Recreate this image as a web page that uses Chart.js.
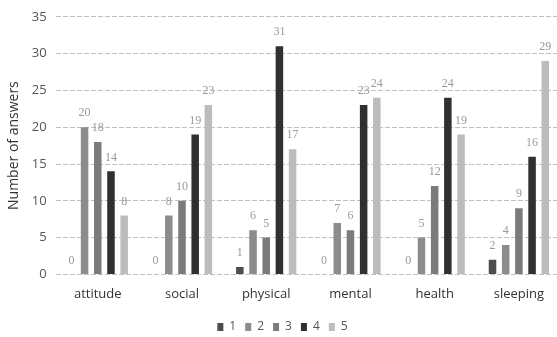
<!DOCTYPE html>
<html><head><meta charset="utf-8">
<script src="https://cdn.jsdelivr.net/npm/chart.js@4/dist/chart.umd.min.js"></script>
<style>html,body{margin:0;padding:0;background:#fff;overflow:hidden}#wrap{width:562px;height:337px}</style>
</head><body><div id="wrap"><canvas id="c" width="562" height="337"></canvas></div>
<script>
const categories = ["attitude","social","physical","mental","health","sleeping"];
const seriesNames = ["1","2","3","4","5"];
const s1 = [0,0,1,0,0,2];
const s2 = [20,8,6,7,5,4];
const s3 = [18,10,5,6,12,9];
const s4 = [14,19,31,23,24,16];
const s5 = [8,23,17,24,19,29];
const yTicks = [0,5,10,15,20,25,30,35];
const colors = ["#4d4d4d","#8c8c8c","#7b7b7b","#303030","#bcbcbc"];
const allSeries = [s1,s2,s3,s4,s5];

const labelPlugin = {
  id:'vals',
  afterLayout(chart){
    if (chart.legend) { chart.legend.top += 6; chart.legend.bottom += 6; }
  },
  afterDatasetsDraw(chart){
    const ctx = chart.ctx;
    ctx.save();
    ctx.font = '12px "Liberation Serif", serif';
    ctx.fillStyle = '#999';
    ctx.textAlign = 'center';
    ctx.textBaseline = 'middle';
    chart.data.datasets.forEach((ds,i)=>{
      chart.getDatasetMeta(i).data.forEach((bar,j)=>{
        ctx.fillText(String(ds.data[j]), bar.x, bar.y - 14);
      });
    });
    ctx.restore();
  }
};

new Chart(document.getElementById('c'), {
  type:'bar',
  data:{
    labels:categories,
    datasets: allSeries.map((d,i)=>({label:seriesNames[i], data:d, backgroundColor:colors[i], barPercentage:0.57, categoryPercentage:0.783}))
  },
  options:{
    responsive:false, animation:false,
    layout:{padding:{top:9,right:1,left:4,bottom:0}},
    plugins:{
      legend:{position:'bottom', labels:{boxWidth:6, boxHeight:8, padding:9, color:'#555', font:{family:'"Open Sans", sans-serif', size:12}}},
      tooltip:{enabled:false}
    },
    scales:{
      x:{grid:{display:false}, border:{display:false}, ticks:{color:'#333', padding:4, font:{family:'"Open Sans", sans-serif', size:13}}},
      y:{min:0,max:35,
        afterBuildTicks(ax){ax.ticks = yTicks.map(v=>({value:v}));},
        grid:{color:'#c0c0c0', drawTicks:false},
        border:{display:false, dash:[5,2]},
        ticks:{color:'#555', padding:9, font:{family:'"Open Sans", sans-serif', size:13}},
        title:{display:true, text:'Number of answers', color:'#333', padding:{top:2,bottom:0}, font:{family:'"Open Sans", sans-serif', size:14}}
      }
    }
  },
  plugins:[labelPlugin]
});
</script></body></html>
